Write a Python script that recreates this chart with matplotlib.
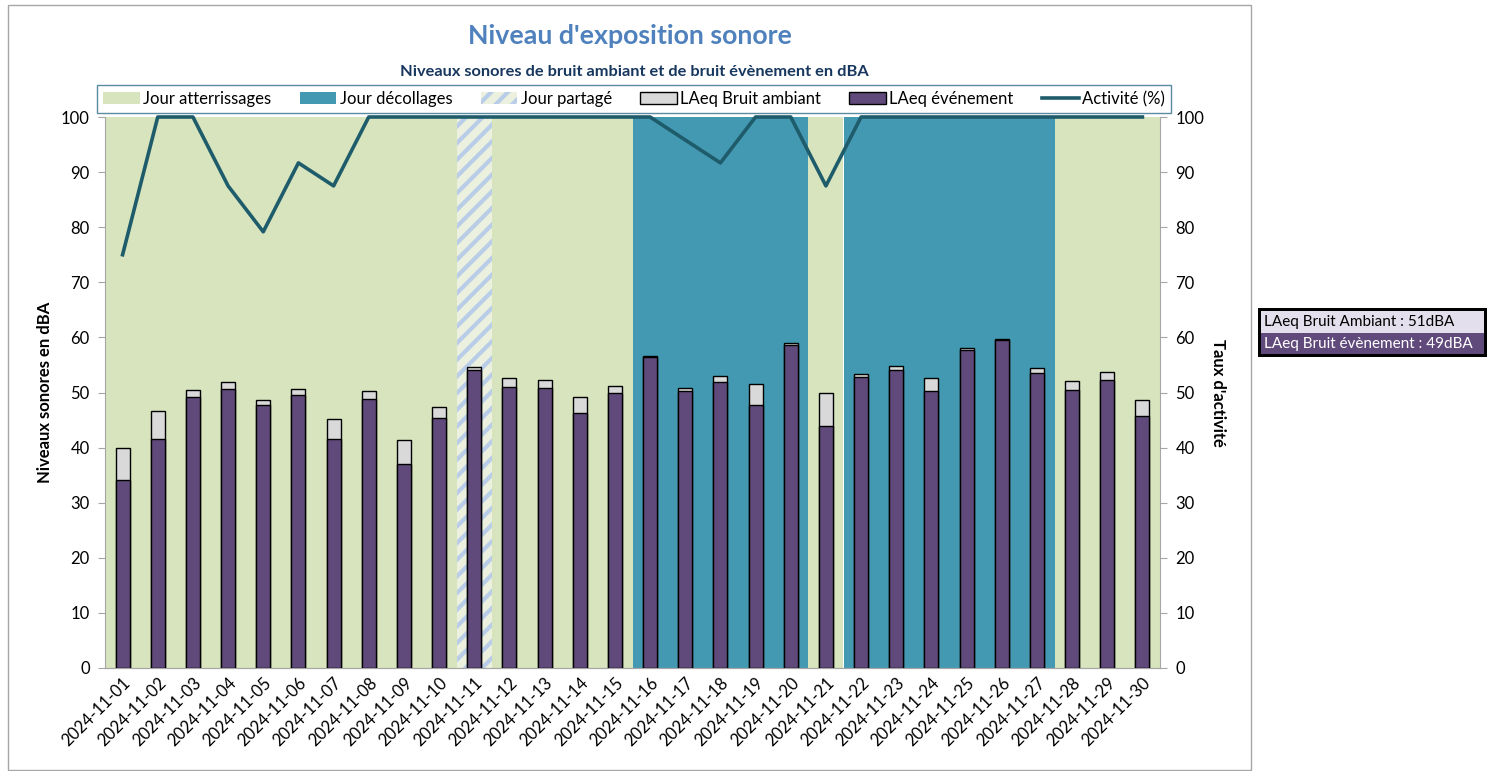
import matplotlib.pyplot as plt
import matplotlib.patches as mpatches
from matplotlib.lines import Line2D
import numpy as np

plt.rcParams['font.family'] = ['Lato', 'DejaVu Sans']
plt.rcParams['hatch.linewidth'] = 3.0

# data
dates = ["2024-11-%02d" % d for d in range(1, 31)]
# A = jour atterrissages, D = jour decollages, P = jour partage
day_type = ["A"] * 10 + ["P"] + ["A"] * 4 + ["D"] * 5 + ["A"] + ["D"] * 6 + ["A"] * 3
laeq_ambiant = [39.9, 46.6, 50.5, 51.9, 48.7, 50.6, 45.2, 50.2, 41.3, 47.3,
                54.6, 52.6, 52.2, 49.1, 51.1, 56.7, 50.9, 53.0, 51.6, 58.9,
                50.0, 53.3, 54.9, 52.6, 58.1, 59.8, 54.5, 52.1, 53.8, 48.7]
laeq_event = [34.1, 41.5, 49.1, 50.7, 47.8, 49.5, 41.6, 48.9, 37.0, 45.4,
              54.1, 51.0, 50.9, 46.3, 49.9, 56.4, 50.2, 51.9, 47.7, 58.6,
              43.9, 52.8, 54.0, 50.3, 57.7, 59.5, 53.6, 50.5, 52.2, 45.7]
activite = [75.0, 100, 100, 87.5, 79.17, 91.67, 87.5, 100, 100, 100,
            100, 100, 100, 100, 100, 100, 95.83, 91.67, 100, 100,
            87.5, 100, 100, 100, 100, 100, 100, 100, 100, 100]
ambiant_moy = 51
event_moy = 49

c_green = '#D7E4BD'
c_teal = '#4399B1'
c_shared = '#EBF1DE'
c_stripe = '#B9CDE8'
c_gray = '#D9D9D9'
c_purple = '#604A7B'
c_line = '#1F5C6B'

fig = plt.figure(figsize=(14.99, 7.71), dpi=100)
ax = fig.add_axes([105 / 1499, 1 - 668 / 771, 1055 / 1499, 551 / 771])
ax2 = ax.twinx()
ax.set_zorder(ax2.get_zorder() + 1)
ax.patch.set_visible(False)

x = np.arange(len(dates))

# day backgrounds, consecutive days of the same type merged into one span
start = 0
for i in range(1, len(day_type) + 1):
    if i == len(day_type) or day_type[i] != day_type[start]:
        t = day_type[start]
        if t == "A":
            ax2.axvspan(start - 0.5, i - 0.5, color=c_green, lw=0, zorder=0)
        elif t == "D":
            ax2.axvspan(start - 0.5, i - 0.5, color=c_teal, lw=0, zorder=0)
        else:
            ax2.axvspan(start - 0.5, i - 0.5, facecolor=c_shared, edgecolor=c_stripe,
                        hatch='//', lw=0, zorder=0)
        start = i

# bars
ax.bar(x, laeq_ambiant, width=0.4, color=c_gray, edgecolor='black', lw=1, zorder=2)
ax.bar(x, laeq_event, width=0.4, color=c_purple, edgecolor='black', lw=1, zorder=3)

# activity line on the front axes (same 0-100 scale)
ax.plot(x, activite, color=c_line, lw=2.6, zorder=4, clip_on=False)

for a in (ax, ax2):
    a.set_xlim(-0.5, len(dates) - 0.5)
    a.set_ylim(0, 100)
    a.set_yticks(range(0, 101, 10))
    for s in a.spines.values():
        s.set_color('#A6A6A6')
    a.spines['top'].set_visible(False)

ax.spines['right'].set_visible(False)
ax2.spines['left'].set_visible(False)
ax.tick_params(axis='y', labelsize=12, color='#A6A6A6', length=5, pad=6)
ax2.tick_params(axis='y', labelsize=12, color='#A6A6A6', length=5, pad=6)

ax.set_xticks(np.arange(-0.5, len(dates), 1), minor=False)
ax.set_xticklabels([])
ax.tick_params(axis='x', color='#A6A6A6', length=5)
ax.set_xticks(x, minor=True)
ax.set_xticklabels(dates, minor=True, rotation=45, ha='right', rotation_mode='anchor', fontsize=12)
ax.tick_params(axis='x', which='minor', length=0, pad=5)
ax2.set_xticks([])

ax.set_ylabel("Niveaux sonores en dBA", fontsize=12, fontweight='bold', labelpad=6)
ax2.set_ylabel("Taux d'activité", fontsize=12, fontweight='bold', rotation=270, labelpad=16)

# titles
fig.text(630 / 1499, 1 - 36 / 771, "Niveau d'exposition sonore", ha='center', va='center',
         fontsize=19.3, fontweight='bold', color='#4F81BD')
fig.text(634 / 1499, 1 - 72 / 771, "Niveaux sonores de bruit ambiant et de bruit évènement en dBA",
         ha='center', va='center', fontsize=11.8, fontweight='bold', color='#17375E')

# legend
handles = [
    mpatches.Patch(facecolor=c_green, edgecolor='none', label='Jour atterrissages'),
    mpatches.Patch(facecolor=c_teal, edgecolor='none', label='Jour décollages'),
    mpatches.Patch(facecolor=c_shared, edgecolor=c_stripe, hatch='//', lw=0, label='Jour partagé'),
    mpatches.Patch(facecolor=c_gray, edgecolor='black', label='LAeq Bruit ambiant'),
    mpatches.Patch(facecolor=c_purple, edgecolor='black', label='LAeq événement'),
    Line2D([], [], color=c_line, lw=2.6, label='Activité (%)'),
]
leg = fig.legend(handles=handles, loc='center', bbox_to_anchor=(634 / 1499, 1 - 99 / 771),
                 ncol=6, fontsize=12, frameon=True, fancybox=False, handlelength=2.2,
                 handletextpad=0.2, columnspacing=1.7, borderpad=0.35)
leg.get_frame().set_edgecolor('#31708A')
leg.get_frame().set_linewidth(1.0)

# outer chart frame
fig.patches.append(mpatches.Rectangle((8 / 1499, 1 - 770 / 771), 1243 / 1499, 765 / 771,
                                      transform=fig.transFigure, fill=False,
                                      edgecolor='#A6A6A6', lw=1))

# summary box
fig.patches.append(mpatches.Rectangle((1258 / 1499, 1 - 357 / 771), 229 / 1499, 49 / 771,
                                      transform=fig.transFigure, facecolor='black', lw=0))
fig.patches.append(mpatches.Rectangle((1261 / 1499, 1 - 333 / 771), 223 / 1499, 22 / 771,
                                      transform=fig.transFigure, facecolor='#E4DFEC', lw=0))
fig.patches.append(mpatches.Rectangle((1261 / 1499, 1 - 354 / 771), 223 / 1499, 21 / 771,
                                      transform=fig.transFigure, facecolor=c_purple, lw=0))
fig.text(1264 / 1499, 1 - 322 / 771, "LAeq Bruit Ambiant : %ddBA" % ambiant_moy,
         ha='left', va='center', fontsize=11, color='black')
fig.text(1264 / 1499, 1 - 344 / 771, "LAeq Bruit évènement : %ddBA" % event_moy,
         ha='left', va='center', fontsize=11, color='white')

fig.savefig("out.png", dpi=100)
